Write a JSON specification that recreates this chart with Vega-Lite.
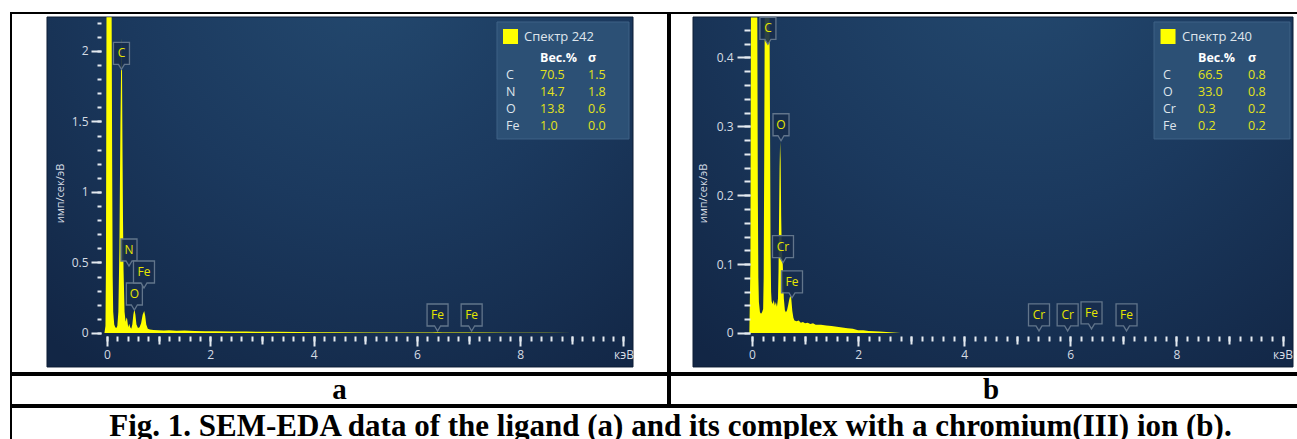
{
  "$schema": "https://vega.github.io/schema/vega-lite/v6.json",
  "background": "white",
  "padding": {"left": 10, "top": 12, "right": 0, "bottom": 0},
  "spacing": 0,
  "config": {
    "view": {"stroke": "black", "strokeWidth": 2},
    "font": "Open Sans",
    "axis": {"domain": false, "grid": false, "tickColor": "#e4eaf0", "tickWidth": 2, "labelColor": "#d5dce4", "labelFont": "Open Sans", "labelFontSize": 12, "titleColor": "#d5dce4", "titleFont": "Open Sans", "titleFontWeight": "normal", "titleFontSize": 11, "labelFlush": false, "labelOverlap": false}
  },
  "datasets": {
    "specA": [
      {"e": -0.05, "v": 0}, {"e": -0.03, "v": 0.05}, {"e": -0.02, "v": 0.5}, {"e": -0.01, "v": 2.24}, {"e": 0.09, "v": 2.24}, {"e": 0.1, "v": 1.2}, {"e": 0.11, "v": 0.4}, {"e": 0.12, "v": 0.15}, {"e": 0.14, "v": 0.06}, {"e": 0.16, "v": 0.04}, {"e": 0.18, "v": 0.035}, {"e": 0.2, "v": 0.05}, {"e": 0.22, "v": 0.15}, {"e": 0.24, "v": 0.6}, {"e": 0.26, "v": 1.5}, {"e": 0.28, "v": 2.09}, {"e": 0.29, "v": 1.9}, {"e": 0.3, "v": 1.3}, {"e": 0.31, "v": 0.8}, {"e": 0.32, "v": 0.45}, {"e": 0.34, "v": 0.15}, {"e": 0.36, "v": 0.08}, {"e": 0.38, "v": 0.11}, {"e": 0.39, "v": 0.1}, {"e": 0.41, "v": 0.04}, {"e": 0.43, "v": 0.065}, {"e": 0.45, "v": 0.04}, {"e": 0.47, "v": 0.03}, {"e": 0.49, "v": 0.06}, {"e": 0.51, "v": 0.13}, {"e": 0.53, "v": 0.17}, {"e": 0.55, "v": 0.13}, {"e": 0.57, "v": 0.06}, {"e": 0.6, "v": 0.035}, {"e": 0.63, "v": 0.04}, {"e": 0.66, "v": 0.07}, {"e": 0.69, "v": 0.13}, {"e": 0.72, "v": 0.156}, {"e": 0.74, "v": 0.12}, {"e": 0.76, "v": 0.06}, {"e": 0.79, "v": 0.03}, {"e": 0.83, "v": 0.024}, {"e": 0.9, "v": 0.021}, {"e": 1.0, "v": 0.02}, {"e": 1.1, "v": 0.018}, {"e": 1.2, "v": 0.019}, {"e": 1.35, "v": 0.016}, {"e": 1.5, "v": 0.017}, {"e": 1.7, "v": 0.014}, {"e": 1.9, "v": 0.013}, {"e": 2.1, "v": 0.012}, {"e": 2.4, "v": 0.011}, {"e": 2.7, "v": 0.01}, {"e": 3.0, "v": 0.009}, {"e": 3.3, "v": 0.009}, {"e": 3.7, "v": 0.007}, {"e": 4.1, "v": 0.006}, {"e": 4.5, "v": 0.005}, {"e": 5.0, "v": 0.004}, {"e": 5.5, "v": 0.004}, {"e": 6.0, "v": 0.004}, {"e": 6.3, "v": 0.004}, {"e": 6.4, "v": 0.006}, {"e": 6.5, "v": 0.004}, {"e": 7.0, "v": 0.003}, {"e": 7.06, "v": 0.004}, {"e": 7.2, "v": 0.003}, {"e": 7.8, "v": 0.002}, {"e": 8.5, "v": 0.001}, {"e": 9.0, "v": 0}
    ],
    "specB": [
      {"e": -0.05, "v": 0}, {"e": -0.03, "v": 0.1}, {"e": -0.02, "v": 0.458}, {"e": 0.1, "v": 0.458}, {"e": 0.11, "v": 0.2}, {"e": 0.12, "v": 0.08}, {"e": 0.13, "v": 0.045}, {"e": 0.15, "v": 0.03}, {"e": 0.17, "v": 0.028}, {"e": 0.19, "v": 0.03}, {"e": 0.21, "v": 0.035}, {"e": 0.22, "v": 0.08}, {"e": 0.23, "v": 0.25}, {"e": 0.24, "v": 0.458}, {"e": 0.33, "v": 0.458}, {"e": 0.34, "v": 0.3}, {"e": 0.35, "v": 0.12}, {"e": 0.36, "v": 0.06}, {"e": 0.37, "v": 0.046}, {"e": 0.39, "v": 0.042}, {"e": 0.41, "v": 0.048}, {"e": 0.43, "v": 0.04}, {"e": 0.45, "v": 0.045}, {"e": 0.47, "v": 0.038}, {"e": 0.49, "v": 0.05}, {"e": 0.5, "v": 0.09}, {"e": 0.51, "v": 0.17}, {"e": 0.52, "v": 0.24}, {"e": 0.53, "v": 0.278}, {"e": 0.54, "v": 0.25}, {"e": 0.55, "v": 0.17}, {"e": 0.56, "v": 0.125}, {"e": 0.57, "v": 0.11}, {"e": 0.58, "v": 0.1}, {"e": 0.59, "v": 0.075}, {"e": 0.6, "v": 0.05}, {"e": 0.62, "v": 0.033}, {"e": 0.64, "v": 0.03}, {"e": 0.66, "v": 0.033}, {"e": 0.68, "v": 0.04}, {"e": 0.7, "v": 0.048}, {"e": 0.72, "v": 0.054}, {"e": 0.74, "v": 0.05}, {"e": 0.76, "v": 0.032}, {"e": 0.78, "v": 0.022}, {"e": 0.8, "v": 0.018}, {"e": 0.84, "v": 0.017}, {"e": 0.88, "v": 0.018}, {"e": 0.92, "v": 0.015}, {"e": 0.96, "v": 0.016}, {"e": 1.0, "v": 0.014}, {"e": 1.05, "v": 0.015}, {"e": 1.1, "v": 0.013}, {"e": 1.15, "v": 0.014}, {"e": 1.2, "v": 0.012}, {"e": 1.3, "v": 0.012}, {"e": 1.4, "v": 0.011}, {"e": 1.5, "v": 0.01}, {"e": 1.6, "v": 0.009}, {"e": 1.7, "v": 0.008}, {"e": 1.8, "v": 0.007}, {"e": 1.9, "v": 0.006}, {"e": 2.0, "v": 0.004}, {"e": 2.1, "v": 0.004}, {"e": 2.2, "v": 0.003}, {"e": 2.4, "v": 0.002}, {"e": 2.6, "v": 0.001}, {"e": 2.8, "v": 0}
    ],
    "peaksA": [
      {"el": "C", "e": 0.28, "v": 1.87}, {"el": "N", "e": 0.426, "v": 0.475}, {"el": "O", "e": 0.53, "v": 0.163}, {"el": "Fe", "e": 0.716, "v": 0.319}, {"el": "Fe", "e": 6.4, "v": 0.014}, {"el": "Fe", "e": 7.06, "v": 0.014}
    ],
    "peaksB": [
      {"el": "C", "e": 0.3, "v": 0.419}, {"el": "O", "e": 0.547, "v": 0.279}, {"el": "Cr", "e": 0.584, "v": 0.102}, {"el": "Fe", "e": 0.754, "v": 0.051}, {"el": "Cr", "e": 5.41, "v": 0.003}, {"el": "Cr", "e": 5.95, "v": 0.003}, {"el": "Fe", "e": 6.4, "v": 0.006}, {"el": "Fe", "e": 7.06, "v": 0.003}
    ],
    "tabA": [
      {"el": "C", "wt": "70.5", "s": "1.5"}, {"el": "N", "wt": "14.7", "s": "1.8"}, {"el": "O", "wt": "13.8", "s": "0.6"}, {"el": "Fe", "wt": "1.0", "s": "0.0"}
    ],
    "tabB": [
      {"el": "C", "wt": "66.5", "s": "0.8"}, {"el": "O", "wt": "33.0", "s": "0.8"}, {"el": "Cr", "wt": "0.3", "s": "0.2"}, {"el": "Fe", "wt": "0.2", "s": "0.2"}
    ]
  },
  "vconcat": [
    {
      "spacing": 0,
      "hconcat": [
        {
          "width": 657, "height": 360,
          "resolve": {"scale": {"y": "independent"}, "axis": {"x": "independent", "y": "independent"}},
          "layer": [
            {
              "resolve": {"axis": {"x": "independent", "y": "independent"}},
              "layer": [
                {
                  "data": {"values": [{}]},
                  "mark": {"type": "rect", "fill": {"gradient": "radial", "x1": 0.55, "y1": 0.1, "r1": 0, "x2": 0.55, "y2": 0.1, "r2": 0.85, "stops": [{"offset": 0, "color": "#244a70"}, {"offset": 0.5, "color": "#1b395e"}, {"offset": 1, "color": "#122645"}]}, "stroke": "#0d1d35", "strokeWidth": 1},
                  "encoding": {
                    "x": {"datum": -1.1617, "type": "quantitative", "scale": {"domain": [-1.8587, 10.8616], "nice": false, "zero": false}, "axis": {"orient": "bottom", "zindex": 1, "values": [0,0.2,0.4,0.6,0.8,1,1.2,1.4,1.6,1.8,2,2.2,2.4,2.6,2.8,3,3.2,3.4,3.6,3.8,4,4.2,4.4,4.6,4.8,5,5.2,5.4,5.6,5.8,6,6.2,6.4,6.6,6.8,7,7.2,7.4,7.6,7.8,8,8.2,8.4,8.6,8.8,9,9.2,9.4,9.6,9.8,10], "tickSize": 5, "labels": false, "offset": -37, "title": null}},
                    "x2": {"datum": 10.184},
                    "y": {"datum": -0.241, "type": "quantitative", "scale": {"domain": [-0.2837, 2.2695], "nice": false, "zero": false}, "axis": {"orient": "left", "zindex": 1, "values": [0,0.1,0.2,0.3,0.4,0.5,0.6,0.7,0.8,0.9,1,1.1,1.2,1.3,1.4,1.5,1.6,1.7,1.8,1.9,2,2.1,2.2], "tickSize": 4, "labels": false, "offset": -90, "title": null}},
                    "y2": {"datum": 2.241}
                  }
                },
                {
                  "data": {"name": "specA"},
                  "mark": {"type": "area", "color": "#ffff00", "opacity": 1},
                  "encoding": {
                    "x": {"field": "e", "type": "quantitative", "scale": {"domain": [-1.8587, 10.8616], "nice": false, "zero": false}, "axis": {"orient": "bottom", "zindex": 1, "values": [0,2,4,6,8,10], "tickSize": 10, "labelPadding": 3, "offset": -37, "title": null, "format": "~g", "labelExpr": "datum.value == 10 ? 'кэВ' : datum.label"}},
                    "y": {"field": "v", "type": "quantitative", "scale": {"domain": [-0.2837, 2.2695], "nice": false, "zero": false}, "axis": {"orient": "left", "zindex": 1, "values": [0,0.5,1,1.5,2], "tickSize": 10, "labelPadding": 3, "offset": -90, "title": "имп/сек/эВ", "titlePadding": 6, "format": "~g"}},
                    "y2": {"datum": 0}
                  }
                },
                {
                  "data": {"name": "peaksA"},
                  "mark": {"type": "point", "filled": true, "fill": "#172d4d", "fillOpacity": 0.9, "stroke": "#62758b", "strokeWidth": 1.3, "size": 400, "opacity": 1},
                  "encoding": {
                    "x": {"field": "e", "type": "quantitative", "scale": {"domain": [-1.8587, 10.8616], "nice": false, "zero": false}, "axis": {"orient": "bottom", "zindex": 1, "values": [1,3,5,7,9], "tickSize": 8, "labels": false, "offset": -37, "title": null}},
                    "y": {"field": "v", "type": "quantitative", "scale": {"domain": [-0.2837, 2.2695], "nice": false, "zero": false}, "axis": null},
                    "shape": {"field": "el", "type": "nominal", "scale": {"domain": ["C", "N", "O", "Fe", "Cr"], "range": ["M-0.8,-2.7H0.8V-0.5H0.3L0,0L-0.3,-0.5H-0.8Z", "M-0.8,-2.7H0.8V-0.5H0.3L0,0L-0.3,-0.5H-0.8Z", "M-0.8,-2.7H0.8V-0.5H0.3L0,0L-0.3,-0.5H-0.8Z", "M-1.05,-2.7H1.05V-0.5H0.3L0,0L-0.3,-0.5H-1.05Z", "M-1.05,-2.7H1.05V-0.5H0.3L0,0L-0.3,-0.5H-1.05Z"]}, "legend": null}
                  }
                },
                {
                  "data": {"name": "peaksA"},
                  "mark": {"type": "text", "dy": -16, "fontSize": 12, "color": "#e6e600", "baseline": "middle", "align": "center"},
                  "encoding": {
                    "x": {"field": "e", "type": "quantitative", "axis": null},
                    "y": {"field": "v", "type": "quantitative", "axis": null},
                    "text": {"field": "el"}
                  }
                },
                {
                  "data": {"values": [{}]},
                  "mark": {"type": "rect", "fill": "#2c5075", "stroke": "#3f6286", "strokeWidth": 1},
                  "encoding": {
                    "x": {"datum": 7.551, "type": "quantitative", "axis": null},
                    "x2": {"datum": 10.106},
                    "y": {"datum": 1.3759, "type": "quantitative", "axis": null},
                    "y2": {"datum": 2.2057}
                  }
                },
                {
                  "data": {"values": [{"t": "Спектр 242"}]},
                  "mark": {"type": "point", "shape": "square", "filled": true, "color": "#ffff00", "size": 225, "opacity": 1},
                  "encoding": {
                    "x": {"datum": 7.812, "type": "quantitative", "axis": null},
                    "y": {"datum": 2.1028, "type": "quantitative", "axis": null}
                  }
                },
                {
                  "data": {"values": [{"t": "Спектр 242"}]},
                  "mark": {"type": "text", "align": "left", "baseline": "middle", "fontSize": 13, "color": "#dfe5ec"},
                  "encoding": {
                    "x": {"datum": 8.073, "type": "quantitative", "axis": null},
                    "y": {"datum": 2.099, "type": "quantitative", "axis": null},
                    "text": {"field": "t"}
                  }
                }
              ]
            },
            {
              "layer": [
                {
                  "data": {"values": [{"h": "Вес.%", "s": "σ"}]},
                  "mark": {"type": "text", "align": "left", "baseline": "middle", "fontSize": 12.5, "fontWeight": "bold", "color": "#ffffff"},
                  "encoding": {
                    "x": {"datum": 8.383, "type": "quantitative", "scale": {"domain": [-1.8587, 10.8616], "nice": false, "zero": false}, "axis": null},
                    "y": {"datum": "hdr", "type": "nominal", "scale": {"type": "point", "domain": ["hdr", "C", "N", "O", "Fe"], "range": [45, 113], "padding": 0}, "axis": null},
                    "text": {"field": "h"}
                  }
                },
                {
                  "data": {"values": [{"h": "Вес.%", "s": "σ"}]},
                  "mark": {"type": "text", "align": "left", "baseline": "middle", "fontSize": 12.5, "fontWeight": "bold", "color": "#ffffff"},
                  "encoding": {
                    "x": {"datum": 9.313, "type": "quantitative", "axis": null},
                    "y": {"datum": "hdr", "type": "nominal", "axis": null},
                    "text": {"field": "s"}
                  }
                },
                {
                  "data": {"name": "tabA"},
                  "mark": {"type": "text", "align": "left", "baseline": "middle", "fontSize": 12.5, "color": "#dfe5ec"},
                  "encoding": {
                    "x": {"datum": 7.725, "type": "quantitative", "axis": null},
                    "y": {"field": "el", "type": "nominal", "axis": null},
                    "text": {"field": "el"}
                  }
                },
                {
                  "data": {"name": "tabA"},
                  "mark": {"type": "text", "align": "left", "baseline": "middle", "fontSize": 12.5, "color": "#e3e31a"},
                  "encoding": {
                    "x": {"datum": 8.383, "type": "quantitative", "axis": null},
                    "y": {"field": "el", "type": "nominal", "axis": null},
                    "text": {"field": "wt"}
                  }
                },
                {
                  "data": {"name": "tabA"},
                  "mark": {"type": "text", "align": "left", "baseline": "middle", "fontSize": 12.5, "color": "#e3e31a"},
                  "encoding": {
                    "x": {"datum": 9.313, "type": "quantitative", "axis": null},
                    "y": {"field": "el", "type": "nominal", "axis": null},
                    "text": {"field": "s"}
                  }
                }
              ]
            }
          ]
        },
        {
          "width": 642, "height": 360,
          "resolve": {"scale": {"y": "independent"}, "axis": {"x": "independent", "y": "independent"}},
          "layer": [
            {
              "resolve": {"axis": {"x": "independent", "y": "independent"}},
              "layer": [
                {
                  "data": {"values": [{}]},
                  "mark": {"type": "rect", "fill": {"gradient": "radial", "x1": 0.55, "y1": 0.1, "r1": 0, "x2": 0.55, "y2": 0.1, "r2": 0.85, "stops": [{"offset": 0, "color": "#244a70"}, {"offset": 0.5, "color": "#1b395e"}, {"offset": 1, "color": "#122645"}]}, "stroke": "#0d1d35", "strokeWidth": 1},
                  "encoding": {
                    "x": {"datum": -1.112, "type": "quantitative", "scale": {"domain": [-1.5457, 10.556], "nice": false, "zero": false}, "axis": {"orient": "bottom", "zindex": 1, "values": [0,0.2,0.4,0.6,0.8,1,1.2,1.4,1.6,1.8,2,2.2,2.4,2.6,2.8,3,3.2,3.4,3.6,3.8,4,4.2,4.4,4.6,4.8,5,5.2,5.4,5.6,5.8,6,6.2,6.4,6.6,6.8,7,7.2,7.4,7.6,7.8,8,8.2,8.4,8.6,8.8,9,9.2,9.4,9.6,9.8,10], "tickSize": 5, "labels": false, "offset": -37, "title": null}},
                    "x2": {"datum": 10.198},
                    "y": {"datum": -0.0493, "type": "quantitative", "scale": {"domain": [-0.05806, 0.46444], "nice": false, "zero": false}, "axis": {"orient": "left", "zindex": 1, "values": [0,0.02,0.04,0.06,0.08,0.1,0.12,0.14,0.16,0.18,0.2,0.22,0.24,0.26,0.28,0.3,0.32,0.34,0.36,0.38,0.4,0.42,0.44], "tickSize": 6, "labels": false, "offset": -80, "title": null}},
                    "y2": {"datum": 0.4586}
                  }
                },
                {
                  "data": {"name": "specB"},
                  "mark": {"type": "area", "color": "#ffff00", "opacity": 1},
                  "encoding": {
                    "x": {"field": "e", "type": "quantitative", "scale": {"domain": [-1.5457, 10.556], "nice": false, "zero": false}, "axis": {"orient": "bottom", "zindex": 1, "values": [0,2,4,6,8,10], "tickSize": 10, "labelPadding": 3, "offset": -37, "title": null, "format": "~g", "labelExpr": "datum.value == 10 ? 'кэВ' : datum.label"}},
                    "y": {"field": "v", "type": "quantitative", "scale": {"domain": [-0.05806, 0.46444], "nice": false, "zero": false}, "axis": {"orient": "left", "zindex": 1, "values": [0,0.1,0.2,0.3,0.4], "tickSize": 13, "labelPadding": 4, "offset": -80, "title": "имп/сек/эВ", "titlePadding": 8, "format": "~g"}},
                    "y2": {"datum": 0}
                  }
                },
                {
                  "data": {"name": "peaksB"},
                  "mark": {"type": "point", "filled": true, "fill": "#172d4d", "fillOpacity": 0.9, "stroke": "#62758b", "strokeWidth": 1.3, "size": 400, "opacity": 1},
                  "encoding": {
                    "x": {"field": "e", "type": "quantitative", "scale": {"domain": [-1.5457, 10.556], "nice": false, "zero": false}, "axis": {"orient": "bottom", "zindex": 1, "values": [1,3,5,7,9], "tickSize": 8, "labels": false, "offset": -37, "title": null}},
                    "y": {"field": "v", "type": "quantitative", "scale": {"domain": [-0.05806, 0.46444], "nice": false, "zero": false}, "axis": null},
                    "shape": {"field": "el", "type": "nominal", "scale": {"domain": ["C", "N", "O", "Fe", "Cr"], "range": ["M-0.8,-2.7H0.8V-0.5H0.3L0,0L-0.3,-0.5H-0.8Z", "M-0.8,-2.7H0.8V-0.5H0.3L0,0L-0.3,-0.5H-0.8Z", "M-0.8,-2.7H0.8V-0.5H0.3L0,0L-0.3,-0.5H-0.8Z", "M-1.05,-2.7H1.05V-0.5H0.3L0,0L-0.3,-0.5H-1.05Z", "M-1.05,-2.7H1.05V-0.5H0.3L0,0L-0.3,-0.5H-1.05Z"]}, "legend": null}
                  }
                },
                {
                  "data": {"name": "peaksB"},
                  "mark": {"type": "text", "dy": -16, "fontSize": 12, "color": "#e6e600", "baseline": "middle", "align": "center"},
                  "encoding": {
                    "x": {"field": "e", "type": "quantitative", "axis": null},
                    "y": {"field": "v", "type": "quantitative", "axis": null},
                    "text": {"field": "el"}
                  }
                },
                {
                  "data": {"values": [{}]},
                  "mark": {"type": "rect", "fill": "#2c5075", "stroke": "#3f6286", "strokeWidth": 1},
                  "encoding": {
                    "x": {"datum": 7.578, "type": "quantitative", "axis": null},
                    "x2": {"datum": 10.141},
                    "y": {"datum": 0.2816, "type": "quantitative", "axis": null},
                    "y2": {"datum": 0.4514}
                  }
                },
                {
                  "data": {"values": [{"t": "Спектр 240"}]},
                  "mark": {"type": "point", "shape": "square", "filled": true, "color": "#ffff00", "size": 225, "opacity": 1},
                  "encoding": {
                    "x": {"datum": 7.842, "type": "quantitative", "axis": null},
                    "y": {"datum": 0.4303, "type": "quantitative", "axis": null}
                  }
                },
                {
                  "data": {"values": [{"t": "Спектр 240"}]},
                  "mark": {"type": "text", "align": "left", "baseline": "middle", "fontSize": 13, "color": "#dfe5ec"},
                  "encoding": {
                    "x": {"datum": 8.106, "type": "quantitative", "axis": null},
                    "y": {"datum": 0.4296, "type": "quantitative", "axis": null},
                    "text": {"field": "t"}
                  }
                }
              ]
            },
            {
              "layer": [
                {
                  "data": {"values": [{"h": "Вес.%", "s": "σ"}]},
                  "mark": {"type": "text", "align": "left", "baseline": "middle", "fontSize": 12.5, "fontWeight": "bold", "color": "#ffffff"},
                  "encoding": {
                    "x": {"datum": 8.407, "type": "quantitative", "scale": {"domain": [-1.5457, 10.556], "nice": false, "zero": false}, "axis": null},
                    "y": {"datum": "hdr", "type": "nominal", "scale": {"type": "point", "domain": ["hdr", "C", "O", "Cr", "Fe"], "range": [45, 113], "padding": 0}, "axis": null},
                    "text": {"field": "h"}
                  }
                },
                {
                  "data": {"values": [{"h": "Вес.%", "s": "σ"}]},
                  "mark": {"type": "text", "align": "left", "baseline": "middle", "fontSize": 12.5, "fontWeight": "bold", "color": "#ffffff"},
                  "encoding": {
                    "x": {"datum": 9.35, "type": "quantitative", "axis": null},
                    "y": {"datum": "hdr", "type": "nominal", "axis": null},
                    "text": {"field": "s"}
                  }
                },
                {
                  "data": {"name": "tabB"},
                  "mark": {"type": "text", "align": "left", "baseline": "middle", "fontSize": 12.5, "color": "#dfe5ec"},
                  "encoding": {
                    "x": {"datum": 7.747, "type": "quantitative", "axis": null},
                    "y": {"field": "el", "type": "nominal", "axis": null},
                    "text": {"field": "el"}
                  }
                },
                {
                  "data": {"name": "tabB"},
                  "mark": {"type": "text", "align": "left", "baseline": "middle", "fontSize": 12.5, "color": "#e3e31a"},
                  "encoding": {
                    "x": {"datum": 8.407, "type": "quantitative", "axis": null},
                    "y": {"field": "el", "type": "nominal", "axis": null},
                    "text": {"field": "wt"}
                  }
                },
                {
                  "data": {"name": "tabB"},
                  "mark": {"type": "text", "align": "left", "baseline": "middle", "fontSize": 12.5, "color": "#e3e31a"},
                  "encoding": {
                    "x": {"datum": 9.35, "type": "quantitative", "axis": null},
                    "y": {"field": "el", "type": "nominal", "axis": null},
                    "text": {"field": "s"}
                  }
                }
              ]
            }
          ]
        }
      ]
    },
    {
      "spacing": 0,
      "hconcat": [
        {
          "width": 657, "height": 30,
          "data": {"values": [{"p": "a"}]},
          "mark": {"type": "text", "font": "Liberation Serif", "fontWeight": "bold", "fontSize": 29, "baseline": "middle", "color": "black"},
          "encoding": {
            "x": {"datum": 0.5, "type": "quantitative", "scale": {"domain": [0, 1]}, "axis": null},
            "y": {"datum": 0.5, "type": "quantitative", "scale": {"domain": [0, 1]}, "axis": null},
            "text": {"field": "p"}
          }
        },
        {
          "width": 642, "height": 30,
          "data": {"values": [{"p": "b"}]},
          "mark": {"type": "text", "font": "Liberation Serif", "fontWeight": "bold", "fontSize": 29, "baseline": "middle", "color": "black"},
          "encoding": {
            "x": {"datum": 0.5, "type": "quantitative", "scale": {"domain": [0, 1]}, "axis": null},
            "y": {"datum": 0.5, "type": "quantitative", "scale": {"domain": [0, 1]}, "axis": null},
            "text": {"field": "p"}
          }
        }
      ]
    },
    {
      "width": 1299, "height": 40,
      "data": {"values": [{"c": "Fig. 1. SEM-EDA data of the ligand (a) and its complex with a chromium(III) ion (b)."}]},
      "mark": {"type": "text", "font": "Liberation Serif", "fontWeight": "bold", "fontSize": 31, "baseline": "middle", "color": "black", "dx": 10},
      "encoding": {
        "x": {"datum": 0.5, "type": "quantitative", "scale": {"domain": [0, 1]}, "axis": null},
        "y": {"datum": 0.5, "type": "quantitative", "scale": {"domain": [0, 1]}, "axis": null},
        "text": {"field": "c"}
      }
    }
  ]
}
